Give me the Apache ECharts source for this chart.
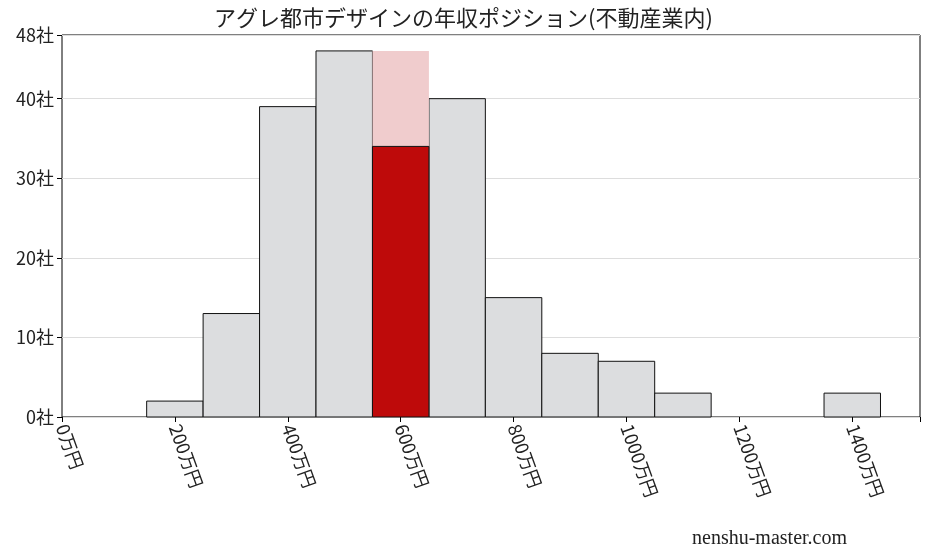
<!DOCTYPE html>
<html><head><meta charset="utf-8">
<script src="https://cdn.jsdelivr.net/npm/echarts@6/dist/echarts.min.js"></script>
<style>html,body{margin:0;padding:0;background:#fff}#c{width:927px;height:557px}</style>
</head><body><div id="c"></div>
<script>
var binStarts = [150, 250, 350, 450, 550, 650, 750, 850, 950, 1050, 1150, 1250, 1350];
var counts = [2, 13, 39, 46, 46, 40, 15, 8, 7, 3, 0, 0, 3];
var binWidth = 100;
var highlightBin = 550;
var highlightCount = 34;
var xTicks = [0, 200, 400, 600, 800, 1000, 1200, 1400];

var chart = echarts.init(document.getElementById('c'));
var font = '"Noto Sans CJK JP", serif';

function barItem(fill, stroke) {
    return function (params, api) {
        var x0 = api.value(0), h = api.value(1);
        var p0 = api.coord([x0, 0]);
        var p1 = api.coord([x0 + binWidth, h]);
        return {
            type: 'rect',
            shape: { x: p0[0], y: p1[1], width: p1[0] - p0[0], height: p0[1] - p1[1] },
            style: { fill: fill, stroke: stroke, lineWidth: stroke ? 1 : 0 }
        };
    };
}

var normal = [], pink = [];
binStarts.forEach(function (b, i) {
    if (counts[i] <= 0) return;
    if (b === highlightBin) pink.push([b, counts[i]]);
    else normal.push([b, counts[i]]);
});

var option = {
    animation: false,
    title: {
        text: 'アグレ都市デザインの年収ポジション(不動産業内)',
        left: 'center', top: 2,
        textStyle: { fontFamily: font, fontSize: 22, fontWeight: 'normal', color: '#222' }
    },
    graphic: [{
        type: 'text', right: 80, bottom: 8,
        style: { text: 'nenshu-master.com', font: '20px serif', fill: '#222' }
    }],
    grid: { left: 62, right: 7, top: 35, bottom: 140, show: true, borderColor: '#000', borderWidth: 1 },
    xAxis: {
        type: 'value', min: 0, max: 1520, interval: 200,
        axisLine: { show: false },
        axisTick: { show: true, length: 5, lineStyle: { color: '#000' } },
        splitLine: { show: false },
        axisLabel: {
            rotate: -70, fontFamily: font, fontSize: 18, color: '#222', margin: 8,
            formatter: function (v) { return xTicks.indexOf(v) >= 0 ? v + '万円' : ''; }
        }
    },
    yAxis: {
        type: 'value', min: 0, max: 48, interval: 10,
        axisLine: { show: false },
        axisTick: { show: true, length: 5, lineStyle: { color: '#000' } },
        splitLine: { show: true, lineStyle: { color: '#ddd' } },
        axisLabel: { fontFamily: font, fontSize: 18, color: '#222', formatter: '{value}社' }
    },
    series: [
        { type: 'custom', renderItem: barItem('#dcdddf', '#111'), data: normal, encode: { x: 0, y: 1 } },
        { type: 'custom', renderItem: barItem('#f0cccd', null), data: pink, encode: { x: 0, y: 1 } },
        { type: 'custom', renderItem: barItem('#be0a0a', '#111'), data: [[highlightBin, highlightCount]], encode: { x: 0, y: 1 } }
    ]
};
chart.setOption(option);
window.addEventListener('resize', function () { chart.resize(); });
</script></body></html>
